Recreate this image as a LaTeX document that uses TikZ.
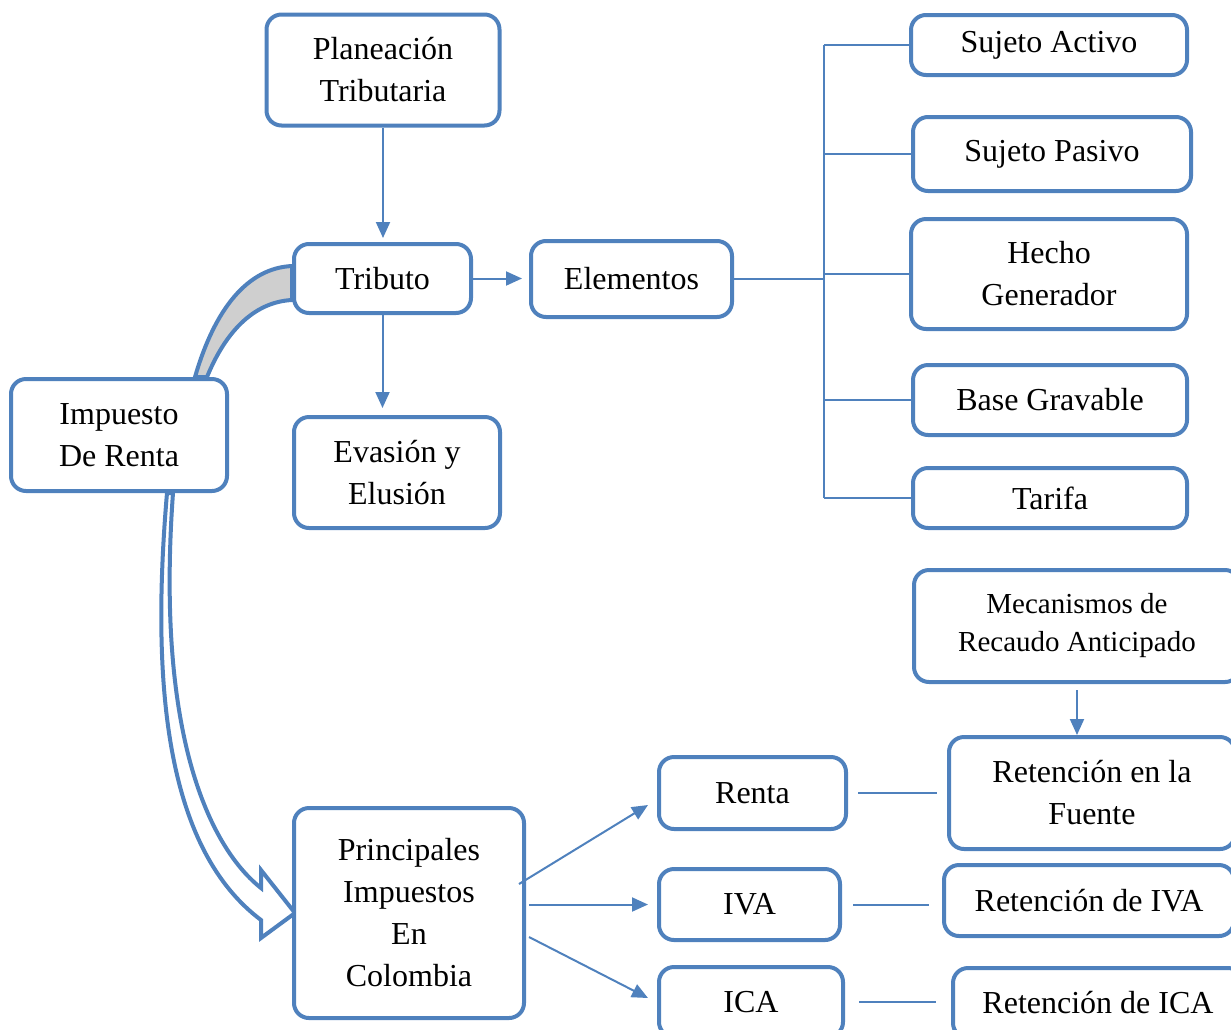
\documentclass[tikz,border=0pt]{standalone}
\usepackage{fontspec}
\setmainfont{Liberation Serif}
\usetikzlibrary{arrows.meta,positioning,calc,backgrounds}
\definecolor{boxblue}{RGB}{79,129,189}
\definecolor{bandgray}{RGB}{207,207,207}
\tikzset{
  conceptbox/.style={draw=boxblue,fill=white,line width=2pt,rounded corners=7.5pt,
    align=center,inner sep=2pt,font=\fontsize{16}{21}\selectfont},
  linkline/.style={draw=boxblue,line width=1pt},
  linkarrow/.style={-{Triangle[length=8pt,width=7pt]},draw=boxblue,line width=1pt},
  bigshape/.style={draw=boxblue,line width=2pt},
}

\begin{document}
\begin{tikzpicture}[x=0.5pt,y=-0.5pt]
    \useasboundingbox (0,0) rectangle (1231,1029);
    \clip (0,0) rectangle (1231,1029);
    % left column
    \node[conceptbox,minimum width=116.5pt,minimum height=55.5pt] (plan) at (383,70) {Planeación\\Tributaria};
    \node[conceptbox,minimum width=88.5pt,minimum height=34.5pt] (tributo) at (382.5,278.5) {Tributo};
    \node[conceptbox,minimum width=100.5pt,minimum height=38pt] (elem) at (631.5,279) {Elementos};
    \node[conceptbox,minimum width=103pt,minimum height=55.5pt] (evasion) at (397,472.5) {Evasión y\\Elusión};
    \node[conceptbox,minimum width=108pt,minimum height=56pt] (impuesto) at (119,435) {Impuesto\\De Renta};
    \node[conceptbox,minimum width=115pt,minimum height=105pt] (princ) at (409,913) {Principales\\Impuestos\\En\\Colombia};
    % elementos
    \node[conceptbox,minimum width=138pt,minimum height=30pt] (activo) at (1049,45) {Sujeto Activo};
    \node[conceptbox,minimum width=139pt,minimum height=37pt] (pasivo) at (1052,154) {Sujeto Pasivo};
    \node[conceptbox,minimum width=138pt,minimum height=55pt] (hecho) at (1049,274) {Hecho\\Generador};
    \node[conceptbox,minimum width=137pt,minimum height=35pt] (base) at (1050,400) {Base Gravable};
    \node[conceptbox,minimum width=137pt,minimum height=30pt] (tarifa) at (1050,498) {Tarifa};
    % impuestos y retenciones
    \node[conceptbox,minimum width=163pt,minimum height=56pt,font=\fontsize{14.5}{19}\selectfont] (mecan) at (1077,626) {Mecanismos de\\Recaudo Anticipado};
    \node[conceptbox,minimum width=143pt,minimum height=56pt] (fuente) at (1092,793) {Retención en la\\Fuente};
    \node[conceptbox,minimum width=145pt,minimum height=35.5pt] (retiva) at (1089,900.5) {Retención de IVA};
    \node[conceptbox,minimum width=145pt,minimum height=35pt] (retica) at (1098,1003) {Retención de ICA};
    \node[conceptbox,minimum width=93.5pt,minimum height=36pt] (renta) at (752.5,793) {Renta};
    \node[conceptbox,minimum width=90.5pt,minimum height=35.5pt] (iva) at (749.5,904.5) {IVA};
    \node[conceptbox,minimum width=92pt,minimum height=35pt] (ica) at (751,1002) {ICA};

    \begin{scope}[on background layer]
      % band between Impuesto and Tributo
      \path[bigshape,fill=bandgray]
        ($(impuesto.north)+(76,0)$) .. controls +(20,-69) and +(-44,2) .. ($(tributo.west)+(0,-12.5)$)
        -- ($(tributo.west)+(0,21.5)$) .. controls +(-39,2) and +(18,-44) .. ($(impuesto.north)+(88,0)$) -- cycle;
      % hollow arrow to Principales Impuestos
      \coordinate (tip) at ($(princ.west)+(3,0)$);
      \path[bigshape,fill=white,line join=miter]
        ($(impuesto.south)+(48,0)$) .. controls +(-17,199) and +(-93,-70) .. ($(tip)+(-34,7)$)
        -- ++(0,18) -- (tip) -- ($(tip)+(-34,-43)$) -- ++(0,18)
        .. controls +(-48,-38) and +(-18,249) .. ($(impuesto.south)+(54,0)$) -- cycle;
    \end{scope}

    \draw[linkarrow,shorten >=2pt] (plan.south) -- (plan.south |- tributo.north);
    \draw[linkarrow,shorten >=3.5pt] (tributo.east) -- (tributo.east -| elem.west);
    \draw[linkarrow,shorten >=3.5pt] (tributo.south) -- (tributo.south |- evasion.north);
    % bracket to the elements
    \coordinate (brtop) at ($(activo.west)+(-85,0)$);
    \draw[linkline] (elem.east) -- (brtop |- elem.east);
    \draw[linkline] (brtop) -- (brtop |- tarifa.west);
    \foreach \el in {activo,pasivo,hecho,base,tarifa}
      \draw[linkline] (brtop |- \el.west) -- (\el.west);

    \draw[linkarrow,shorten <=3pt] (mecan.south) -- (mecan.south |- fuente.north);
    \draw[linkline,shorten <=5pt,shorten >=5pt] (renta.east) -- (fuente.west);
    \draw[linkline,shorten <=5.5pt,shorten >=6.5pt] (iva.east) -- (iva.east -| retiva.west);
    \draw[linkline,shorten <=7pt,shorten >=7.5pt] (ica.east) -- (ica.east -| retica.west);

    \draw[linkarrow] ($(princ.east)+(-7,-29)$) -- ($(renta.west)+(-9,12)$);
    \draw[linkarrow] ($(princ.east |- iva.west)+(3,0)$) -- ($(iva.west)+(-9,0)$);
    \draw[linkarrow] ($(princ.east)+(3,24)$) -- ($(ica.west)+(-9,-4)$);
\end{tikzpicture}
\end{document}
